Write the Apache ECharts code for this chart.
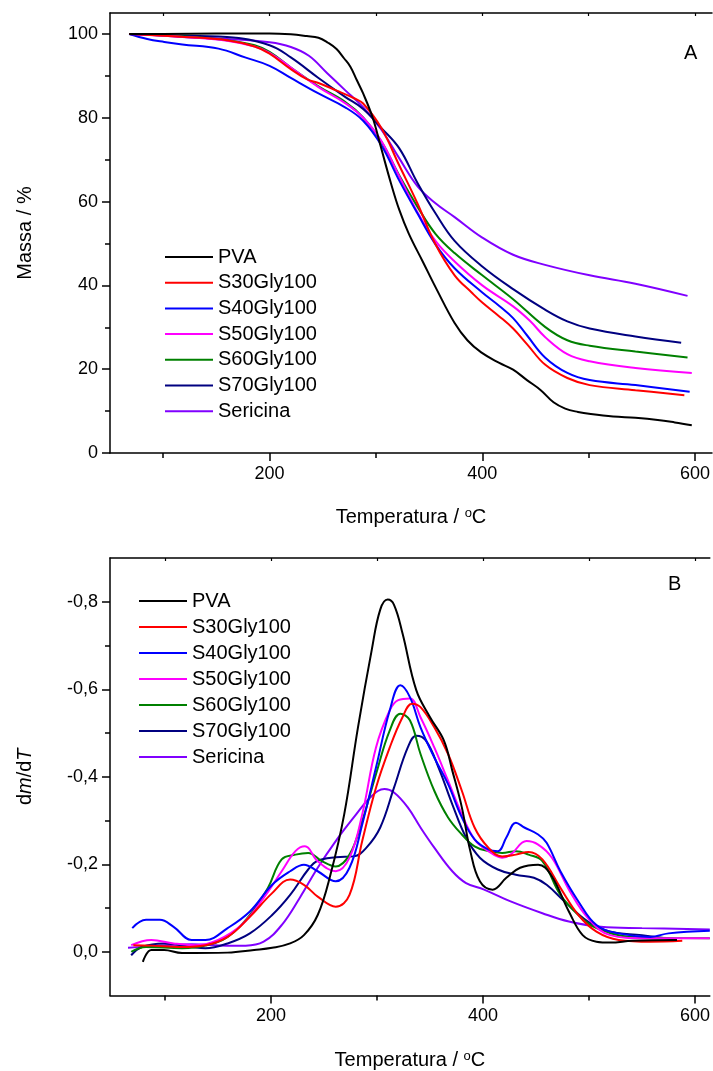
<!DOCTYPE html>
<html>
<head>
<meta charset="utf-8">
<script src="https://cdn.jsdelivr.net/npm/echarts@6/dist/echarts.min.js"></script>
<style>
html,body{margin:0;padding:0;background:#fff;}
#c{width:713px;height:1071px;}
</style>
</head>
<body>
<div id="c"></div>
<script>
// ---------- DATA ----------
const seriesNames = ['PVA','S30Gly100','S40Gly100','S50Gly100','S60Gly100','S70Gly100','Sericina'];
const seriesColors = ['#000000','#ff0000','#0000ff','#ff00ff','#008000','#000080','#8000ff'];

const xTicksMajor = [200,400,600];
const xTicksMinor = [100,300,500];
const yTicksA = [0,20,40,60,80,100];
const yTicksAMinor = [10,30,50,70,90];
const yTicksB = [-0.8,-0.6,-0.4,-0.2,0];
const yTicksBMinor = [-0.7,-0.5,-0.3,-0.1];

// Panel A: mass (%) vs temperature (°C)
const tgaPVA = [[68,100],[100,100],[150,100.1],[200,100.1],[220,99.9],[235,99.5],[246,99.1],[255,97.9],[263,96.4],[270,94.2],[276,92.2],[282,89],[288,85.8],[297,80],[305,72.7],[314,64.5],[322,58],[331,52.3],[344,45.7],[357,39.1],[374,31],[386,26.9],[399,24],[416,21.5],[429,19.9],[442,17.4],[455,15],[467,12.1],[478,10.6],[490,9.8],[502,9.3],[523,8.7],[544,8.4],[565,7.9],[581,7.3],[597,6.6]];
const tgaS30 = [[68,100],[120,99.3],[160,98.5],[186,97],[200,95.3],[220,91.6],[235,89.2],[246,88.3],[262,86.6],[280,84.6],[288,83.4],[305,77.6],[322,68.6],[339,59.6],[356,49.8],[374,42.4],[390,38.3],[400,35.9],[416,32.6],[429,29.7],[442,26],[459,21.1],[480,17.9],[501,16.2],[544,15],[590,13.8]];
const tgaS40 = [[68,100],[85,98.8],[101,98.1],[118,97.5],[152,96.5],[177,94.4],[200,92.4],[220,89.5],[246,85.8],[271,82.5],[288,79.3],[305,73.5],[322,65],[339,57.2],[356,49.8],[374,44.1],[400,38.3],[416,35.1],[429,32.2],[442,28.1],[459,22.8],[480,19.1],[501,17.4],[544,16.2],[595,14.6]];
const tgaS50 = [[68,100],[120,99.3],[160,98.4],[186,97],[200,95.5],[220,92],[246,87.3],[271,83.5],[288,80],[305,74.5],[322,66],[339,57.5],[356,50.6],[374,45.7],[400,40],[429,35],[445,31.5],[459,27.7],[480,23.6],[501,21.9],[544,20.3],[597,19.1]];
const tgaS60 = [[68,100],[120,99.4],[160,98.5],[186,97.3],[200,95.7],[220,92],[246,87.5],[271,83.8],[288,80.1],[305,74.4],[322,66.2],[339,58.8],[356,52.3],[374,47.7],[400,42.4],[429,36.7],[459,30.1],[480,26.9],[501,25.6],[544,24.2],[593,22.8]];
const tgaS70 = [[68,100],[100,99.7],[160,99.3],[200,97.3],[220,94.4],[246,89.5],[271,85],[288,82.1],[305,77.6],[322,72.7],[339,64.5],[356,57.2],[374,50.6],[400,44.5],[429,39.1],[459,34.2],[480,31.4],[501,29.7],[544,27.8],[587,26.3]];
const tgaSer = [[68,100],[100,99.6],[118,99.3],[160,98.8],[200,98],[220,96.9],[237,94.8],[254,90.7],[271,86.6],[288,82.5],[305,77.2],[322,70.3],[339,63.7],[356,59.6],[374,56.3],[400,51.4],[429,47.3],[459,44.9],[501,42.4],[544,40.4],[593,37.5]];

// Panel B: dm/dT vs temperature (°C)
const dtgPVA = [[79,0.023],[87,-0.004],[99,-0.004],[116,0.003],[159,0.002],[184,-0.004],[201,-0.009],[218,-0.019],[231,-0.038],[244,-0.084],[256,-0.176],[269,-0.314],[282,-0.513],[295,-0.69],[303,-0.782],[310,-0.805],[316,-0.793],[324,-0.728],[337,-0.598],[350,-0.536],[363,-0.483],[371,-0.414],[380,-0.33],[388,-0.23],[397,-0.161],[409,-0.142],[422,-0.169],[435,-0.192],[452,-0.199],[464,-0.176],[481,-0.092],[494,-0.038],[507,-0.023],[520,-0.021],[541,-0.025],[583,-0.027]];
const dtgS30 = [[70,-0.015],[87,-0.014],[116,-0.011],[138,-0.015],[159,-0.034],[180,-0.08],[201,-0.134],[218,-0.165],[231,-0.153],[244,-0.126],[261,-0.103],[274,-0.13],[286,-0.253],[299,-0.375],[312,-0.467],[324,-0.536],[333,-0.567],[341,-0.559],[354,-0.513],[367,-0.452],[380,-0.368],[392,-0.284],[405,-0.238],[418,-0.218],[431,-0.222],[443,-0.228],[456,-0.211],[473,-0.146],[490,-0.084],[507,-0.046],[528,-0.027],[558,-0.023],[588,-0.025]];
const dtgS40 = [[69,-0.054],[82,-0.073],[95,-0.073],[108,-0.057],[125,-0.027],[138,-0.027],[159,-0.054],[180,-0.092],[201,-0.153],[218,-0.184],[231,-0.199],[244,-0.184],[261,-0.161],[274,-0.192],[286,-0.291],[299,-0.421],[312,-0.552],[322,-0.609],[331,-0.582],[341,-0.513],[354,-0.444],[367,-0.383],[380,-0.307],[392,-0.257],[405,-0.234],[414,-0.23],[422,-0.261],[431,-0.295],[439,-0.284],[452,-0.268],[460,-0.249],[473,-0.184],[490,-0.115],[507,-0.061],[528,-0.042],[558,-0.034],[575,-0.042],[614,-0.048]];
const dtgS50 = [[68,-0.015],[87,-0.027],[108,-0.019],[129,-0.015],[150,-0.027],[172,-0.061],[193,-0.123],[210,-0.184],[223,-0.23],[232,-0.241],[244,-0.207],[261,-0.184],[274,-0.215],[286,-0.314],[299,-0.467],[312,-0.552],[320,-0.575],[331,-0.579],[341,-0.536],[354,-0.467],[367,-0.391],[380,-0.314],[392,-0.257],[405,-0.23],[418,-0.215],[426,-0.222],[441,-0.253],[452,-0.245],[465,-0.215],[482,-0.138],[499,-0.077],[520,-0.038],[550,-0.031],[614,-0.031]];
const dtgS60 = [[68,0],[82,-0.011],[116,-0.008],[138,-0.014],[159,-0.034],[180,-0.084],[197,-0.146],[210,-0.211],[223,-0.222],[235,-0.226],[248,-0.207],[261,-0.195],[274,-0.222],[286,-0.299],[299,-0.406],[312,-0.506],[322,-0.544],[331,-0.529],[341,-0.452],[354,-0.368],[367,-0.307],[380,-0.268],[392,-0.241],[405,-0.23],[418,-0.226],[431,-0.23],[443,-0.222],[456,-0.207],[473,-0.13],[490,-0.084],[507,-0.054],[541,-0.034],[614,-0.031]];
const dtgS70 = [[68,0.008],[78,-0.011],[99,-0.019],[125,-0.011],[138,-0.008],[159,-0.019],[180,-0.042],[201,-0.084],[218,-0.13],[235,-0.188],[244,-0.208],[261,-0.216],[278,-0.218],[290,-0.238],[303,-0.284],[316,-0.375],[329,-0.467],[337,-0.494],[346,-0.483],[358,-0.421],[371,-0.337],[384,-0.261],[397,-0.215],[414,-0.188],[431,-0.176],[448,-0.169],[460,-0.153],[477,-0.115],[499,-0.069],[520,-0.046],[550,-0.038],[583,-0.027]];
const dtgSer = [[65,-0.009],[95,-0.014],[125,-0.017],[159,-0.014],[176,-0.014],[193,-0.023],[210,-0.061],[227,-0.123],[244,-0.192],[261,-0.253],[278,-0.307],[295,-0.356],[307,-0.372],[316,-0.364],[329,-0.33],[341,-0.284],[354,-0.238],[371,-0.184],[384,-0.157],[401,-0.142],[426,-0.115],[456,-0.088],[481,-0.069],[511,-0.057],[550,-0.054],[614,-0.051]];

const tgaData = [tgaPVA,tgaS30,tgaS40,tgaS50,tgaS60,tgaS70,tgaSer];
const dtgData = [dtgPVA,dtgS30,dtgS40,dtgS50,dtgS60,dtgS70,dtgSer];

// ---------- CHART ----------
const FONT = 'Arial, "Liberation Sans", sans-serif';
const chart = echarts.init(document.getElementById('c'), null, {renderer:'canvas'});

const xNameRich = {
  n:{fontFamily:FONT,fontSize:20,color:'#000'},
  s:{fontFamily:FONT,fontSize:13,color:'#000',verticalAlign:'top',padding:[0,0,8,0]}
};
const lineAx = {show:true,onZero:false,lineStyle:{color:'#000',width:1.5}};

function xMajor(grid, min, max){
  return {type:'value',gridIndex:grid,position:'bottom',min:min,max:max,
    axisLine:lineAx,splitLine:{show:false},
    axisTick:{show:true,inside:false,length:8,customValues:xTicksMajor,lineStyle:{color:'#000',width:1.5}},
    axisLabel:{show:true,customValues:xTicksMajor,margin:12,fontFamily:FONT,fontSize:18,color:'#000'},
    name:'{n|Temperatura / }{s|o}{n|C}',nameLocation:'middle',nameGap:54,
    nameTextStyle:{rich:xNameRich}
  };
}
function xMinor(grid, min, max){
  return {type:'value',gridIndex:grid,position:'bottom',min:min,max:max,
    axisLine:{show:false,onZero:false},splitLine:{show:false},
    axisTick:{show:true,length:5,customValues:xTicksMinor,lineStyle:{color:'#000',width:1.5}},
    axisLabel:{show:false}};
}
function xTop(grid, min, max){
  return {type:'value',gridIndex:grid,position:'top',min:min,max:max,
    axisLine:lineAx,splitLine:{show:false},
    axisTick:{show:true,inside:true,length:3,customValues:[100,200,300,400,500,600],lineStyle:{color:'#000',width:1.2}},
    axisLabel:{show:false}};
}

const option = {
  animation:false,
  backgroundColor:'#fff',
  grid:[
    {left:110,top:13,width:604,height:440,show:false},
    {left:110,top:558,width:606,height:442,show:false}
  ],
  xAxis:[
    xMajor(0,50,616), xMinor(0,50,616), xTop(0,50,616),
    xMajor(1,48,614), xMinor(1,48,614), xTop(1,48,614)
  ],
  yAxis:[
    {type:'value',gridIndex:0,position:'left',min:0,max:105,
      axisLine:lineAx,splitLine:{show:false},
      axisTick:{show:true,length:8,customValues:yTicksA,lineStyle:{color:'#000',width:1.5}},
      axisLabel:{show:true,customValues:yTicksA,margin:12,fontFamily:FONT,fontSize:18,color:'#000'},
      name:'Massa / %',nameLocation:'middle',nameGap:75,nameRotate:90,
      nameTextStyle:{fontFamily:FONT,fontSize:20,color:'#000'}},
    {type:'value',gridIndex:0,position:'left',min:0,max:105,
      axisLine:{show:false,onZero:false},splitLine:{show:false},
      axisTick:{show:true,length:5,customValues:yTicksAMinor,lineStyle:{color:'#000',width:1.5}},
      axisLabel:{show:false}},
    {type:'value',gridIndex:1,position:'left',min:-0.9,max:0.1,inverse:true,
      axisLine:lineAx,splitLine:{show:false},
      axisTick:{show:true,length:8,customValues:yTicksB,lineStyle:{color:'#000',width:1.5}},
      axisLabel:{show:true,customValues:yTicksB,margin:12,fontFamily:FONT,fontSize:18,color:'#000',
        formatter:function(v){return Math.abs(v)<1e-9?'0,0':v.toFixed(1).replace('.',',');}},
      name:'{n|d}{i|m}{n|/d}{i|T}',nameLocation:'middle',nameGap:75,nameRotate:90,
      nameTextStyle:{rich:{n:{fontFamily:FONT,fontSize:20,color:'#000'},i:{fontFamily:FONT,fontSize:20,fontStyle:'italic',color:'#000'}}}},
    {type:'value',gridIndex:1,position:'left',min:-0.9,max:0.1,inverse:true,
      axisLine:{show:false,onZero:false},splitLine:{show:false},
      axisTick:{show:true,length:5,customValues:yTicksBMinor,lineStyle:{color:'#000',width:1.5}},
      axisLabel:{show:false}}
  ],
  legend:[
    {data:seriesNames,orient:'vertical',left:160,top:242,itemWidth:48,itemHeight:14,itemGap:5.7,
      icon:'path://M0,6 L48,6 L48,8 L0,8 Z',
      textStyle:{fontFamily:FONT,fontSize:20,color:'#000',lineHeight:20,padding:[0,0,0,0]},selectedMode:false},
    {data:seriesNames,orient:'vertical',left:134,top:586,itemWidth:48,itemHeight:14,itemGap:6,
      icon:'path://M0,6 L48,6 L48,8 L0,8 Z',
      textStyle:{fontFamily:FONT,fontSize:20,color:'#000',lineHeight:20,padding:[0,0,0,0]},selectedMode:false}
  ],
  graphic:[
    {type:'text',left:684,top:43,style:{text:'A',font:'20px '+FONT,fill:'#000'}},
    {type:'text',left:668,top:574,style:{text:'B',font:'20px '+FONT,fill:'#000'}}
  ],
  series:[]
};

seriesNames.forEach(function(n,i){
  option.series.push({name:n,type:'line',xAxisIndex:0,yAxisIndex:0,data:tgaData[i],
    smooth:0.4,symbol:'none',color:seriesColors[i],lineStyle:{width:2,color:seriesColors[i]},z:10-i});
});
seriesNames.forEach(function(n,i){
  option.series.push({name:n,type:'line',xAxisIndex:3,yAxisIndex:2,data:dtgData[i],
    smooth:0.4,symbol:'none',color:seriesColors[i],lineStyle:{width:2,color:seriesColors[i]},z:10-i});
});

chart.setOption(option);
</script>
</body>
</html>
